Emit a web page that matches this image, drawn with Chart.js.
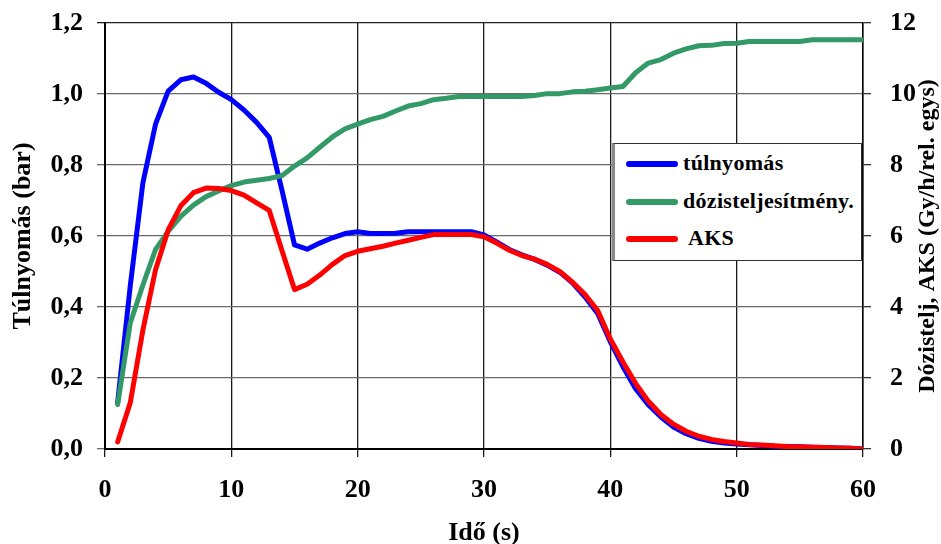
<!DOCTYPE html>
<html>
<head>
<meta charset="utf-8">
<script src="https://cdn.jsdelivr.net/npm/chart.js@4/dist/chart.umd.min.js"></script>
<style>
  html, body { margin: 0; padding: 0; background: #fff; }
  #wrap { position: relative; width: 941px; height: 544px; overflow: hidden; }
  #legend { position: absolute; left: 612px; top: 143px; width: 246px; height: 116px;
            background: #fff; border: 1px solid #333; border-left: 3px solid #8a8a8a;
            font-family: 'Liberation Serif', 'Times New Roman', serif; font-weight: bold;
            font-size: 22px; color: #000; }
  .item { position: absolute; left: 0; height: 26px; white-space: nowrap; }
  .swatch { position: absolute; left: 11px; top: 10px; width: 52px; height: 6px; border-radius: 3px; }
  .txt { position: absolute; left: 68px; top: -1px; letter-spacing: 0.3px; line-height: 26px; }
</style>
</head>
<body>
<div id="wrap">
  <canvas id="c" width="941" height="544"></canvas>
  <div id="legend"></div>
</div>
<script>
// Time axis (s)
const times = [1,2,3,4,5,6,7,8,9,10,11,12,13,14,15,16,17,18,19,20,
               21,22,23,24,25,26,27,28,29,30,31,32,33,34,35,36,37,38,39,40,
               41,42,43,44,45,46,47,48,49,50,51,52,53,54,55,56,57,58,59,60];

// túlnyomás (bar) — left axis
const tulnyomas = [0.13,0.46,0.75,0.915,1.008,1.04,1.048,1.03,1.005,0.984,
                   0.955,0.92,0.878,0.73,0.575,0.563,0.58,0.595,0.607,0.612,
                   0.607,0.607,0.608,0.612,0.612,0.612,0.612,0.612,0.612,0.603,
                   0.583,0.562,0.547,0.534,0.518,0.498,0.468,0.428,0.382,0.302,
                   0.232,0.17,0.125,0.09,0.062,0.043,0.03,0.022,0.017,0.014,
                   0.012,0.01,0.008,0.007,0.006,0.005,0.004,0.003,0.002,0.0];

// dózisteljesítmény — right axis
const dozis = [1.25,3.55,4.62,5.62,6.13,6.55,6.87,7.11,7.27,7.42,
               7.52,7.57,7.62,7.7,7.97,8.2,8.5,8.79,9.02,9.15,
               9.28,9.37,9.52,9.66,9.73,9.84,9.88,9.93,9.93,9.93,
               9.93,9.93,9.93,9.96,10.01,10.01,10.06,10.08,10.12,10.17,
               10.21,10.6,10.87,10.97,11.15,11.27,11.36,11.37,11.42,11.43,
               11.48,11.48,11.48,11.48,11.48,11.53,11.53,11.53,11.53,11.53];

// AKS — right axis
const aks = [0.2,1.3,3.35,5.05,6.17,6.85,7.22,7.35,7.34,7.28,
             7.15,6.93,6.72,5.6,4.49,4.64,4.9,5.2,5.45,5.57,
             5.64,5.71,5.8,5.88,5.96,6.04,6.04,6.04,6.04,5.98,
             5.8,5.6,5.45,5.35,5.2,5.0,4.7,4.35,3.9,3.1,
             2.45,1.85,1.35,0.97,0.7,0.5,0.36,0.27,0.21,0.17,
             0.13,0.11,0.09,0.07,0.06,0.05,0.04,0.03,0.02,0.0];

const seriesNames = ['túlnyomás', 'dózisteljesítmény.', 'AKS'];
const xTitle = 'Idő (s)';
const yTitle = 'Túlnyomás (bar)';
const y1Title = 'Dózistelj, AKS (Gy/h/rel. egys)';

const toXY = (vals) => vals.map((v, i) => ({x: times[i], y: v}));
const FONT = "'Liberation Serif', 'Times New Roman', serif";

const lineCommon = { pointRadius: 0, borderWidth: 5, tension: 0, fill: false,
                     borderCapStyle: 'round', borderJoinStyle: 'round' };

// Right-axis title, rotated to read bottom-to-top like the left one
const rightTitlePlugin = {
  id: 'rightTitle',
  afterDraw(chart) {
    const {ctx, chartArea} = chart;
    ctx.save();
    ctx.translate(928, (chartArea.top + chartArea.bottom) / 2);
    ctx.rotate(-Math.PI / 2);
    ctx.font = "bold 24px " + FONT;
    ctx.fillStyle = '#000';
    ctx.textAlign = 'center';
    ctx.textBaseline = 'middle';
    ctx.fillText(y1Title, 0, 0);
    ctx.restore();
  }
};

const vFit = (w) => (s) => { s.width = w; s.paddingTop = 0; s.paddingBottom = 0; };

const chart = new Chart(document.getElementById('c'), {
  type: 'line',
  data: {
    datasets: [
      Object.assign({ label: seriesNames[0], data: toXY(tulnyomas), borderColor: '#0000ff', yAxisID: 'y', order: 3 }, lineCommon),
      Object.assign({ label: seriesNames[1], data: toXY(dozis), borderColor: '#339966', yAxisID: 'y1', order: 2 }, lineCommon),
      Object.assign({ label: seriesNames[2], data: toXY(aks), borderColor: '#ff0000', yAxisID: 'y1', order: 1 }, lineCommon)
    ]
  },
  plugins: [rightTitlePlugin],
  options: {
    responsive: false,
    animation: false,
    devicePixelRatio: 1,
    layout: { padding: { left: 0, right: 0, top: 23, bottom: 0 } },
    plugins: { legend: { display: false }, tooltip: { enabled: false } },
    scales: {
      x: {
        type: 'linear', position: 'bottom', min: 0, max: 60,
        ticks: { stepSize: 10, padding: 18, color: '#000', font: { family: FONT, size: 26, weight: 'bold' } },
        grid: { color: '#1a1a1a', lineWidth: 1.3, tickLength: 8 },
        border: { color: '#000', width: 2 },
        title: { display: true, text: xTitle, color: '#000', padding: 0,
                 font: { family: FONT, size: 26, weight: 'bold', lineHeight: 0.8 } },
        afterFit: (s) => { s.height = 95; s.paddingLeft = 0; s.paddingRight = 0; }
      },
      y: {
        position: 'left', min: 0, max: 1.2,
        ticks: { stepSize: 0.2, padding: 14, color: '#000', font: { family: FONT, size: 26, weight: 'bold' },
                 callback: (v) => v.toFixed(1).replace('.', ',') },
        grid: { color: (ctx) => (ctx.tick && ctx.tick.value >= 1.19) ? '#222' : '#6a6a6a', lineWidth: 1.3, tickLength: 8 },
        border: { color: '#000', width: 2 },
        title: { display: true, text: yTitle, color: '#000', padding: { top: 8, bottom: 0 },
                 font: { family: FONT, size: 26, weight: 'bold', lineHeight: 1.2 } },
        afterFit: vFit(105)
      },
      y1: {
        position: 'right', min: 0, max: 12,
        ticks: { stepSize: 2, padding: 19, color: '#000', font: { family: FONT, size: 26, weight: 'bold' } },
        grid: { drawOnChartArea: false, color: '#333', lineWidth: 1.3, tickLength: 8 },
        border: { color: '#000', width: 1.5 },
        title: { display: false },
        afterFit: vFit(78)
      }
    }
  }
});

// HTML legend built from the chart's datasets
const legend = document.getElementById('legend');
const tops = [7, 45, 82];
const offs = [0, 0, 5];
chart.data.datasets.forEach((ds, i) => {
  const item = document.createElement('div');
  item.className = 'item';
  item.style.top = tops[i] + 'px';
  const sw = document.createElement('div');
  sw.className = 'swatch';
  sw.style.background = ds.borderColor;
  const t = document.createElement('div');
  t.className = 'txt';
  t.style.left = (68 + offs[i]) + 'px';
  t.textContent = ds.label;
  item.appendChild(sw);
  item.appendChild(t);
  legend.appendChild(item);
});
</script>
</body>
</html>
